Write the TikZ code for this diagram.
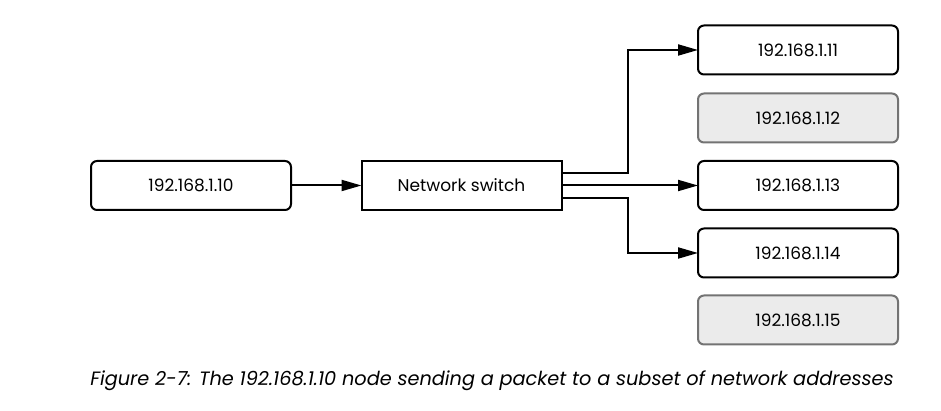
\documentclass[tikz,border=0pt]{standalone}
\usepackage{fontspec}
\setmainfont{Poppins}
\usetikzlibrary{arrows.meta}

\tikzset{
  host/.style={draw=black, line width=2pt, rounded corners=6pt, fill=white,
    minimum width=200pt, minimum height=49pt, outer sep=0pt,
    font=\fontsize{17}{19}\selectfont},
  idle/.style={host, draw=black!55, fill=black!8},
  switchbox/.style={host, rounded corners=0pt},
  wire/.style={line width=2pt, -{Triangle[length=20pt,width=11pt]}}
}

\begin{document}
\begin{tikzpicture}[x=1pt,y=1pt]
  \useasboundingbox (0,0) rectangle (941,411);

  % Nodos
  \node[host] (src) at (191,225.5) {192.168.1.10};
  \node[switchbox] (sw) at (461.5,225.5) {Network switch};

  % Destinos
  \node[host] (d11) at (798,361) {192.168.1.11};
  \node[idle] (d12) at (798,293) {192.168.1.12};
  \node[host] (d13) at (798,225.5) {192.168.1.13};
  \node[host] (d14) at (798,158) {192.168.1.14};
  \node[idle] (d15) at (798,91) {192.168.1.15};

  % Conexiones
  \draw[wire] (src) -- (sw);
  \draw[wire] ([yshift=12.7pt]sw.east) -- ++(66,0) |- (d11.west);
  \draw[wire] (sw.east) -- (d13.west);
  \draw[wire] ([yshift=-12.7pt]sw.east) -- ++(66,0) |- (d14.west);

  % Pie de figura
  \node (cap) at (492,30) {\fontsize{19.3}{21}\selectfont\itshape Figure 2-7: The 192.168.1.10 node sending a packet to a subset of network addresses};
\end{tikzpicture}
\end{document}
